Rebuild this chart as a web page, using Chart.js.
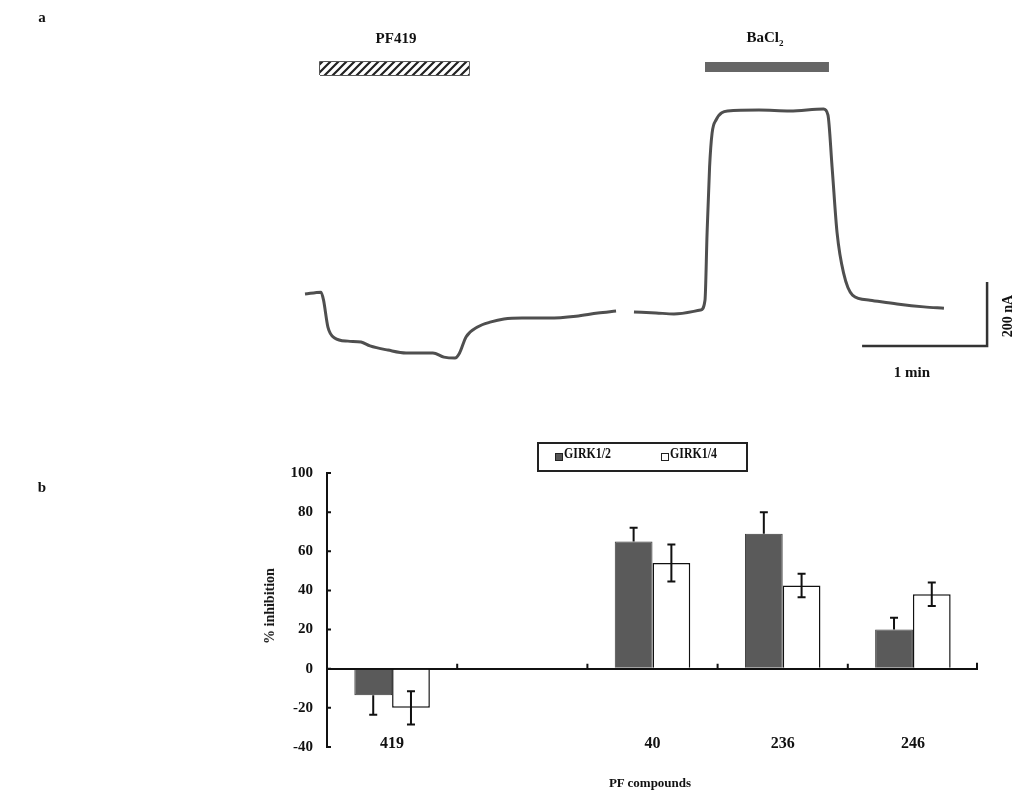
<!DOCTYPE html>
<html>
<head>
<meta charset="utf-8">
<script src="https://cdn.jsdelivr.net/npm/chart.js@4.4.0/dist/chart.umd.min.js"></script>
<style>
body { margin: 0; background: #fff; }
#wrap { position: relative; width: 1017px; height: 790px; overflow: hidden; font-family: "Liberation Serif", serif; font-weight: bold; color: #111; }
canvas { position: absolute; left: 0; }
.t { position: absolute; white-space: nowrap; transform: translate(-50%, -50%); }
.rot { transform: translate(-50%, -50%) rotate(-90deg); }
#legend { position: absolute; left: 537px; top: 442px; width: 211px; height: 30px; border: 2px solid #222; box-sizing: border-box; }
.sq { position: absolute; width: 8px; height: 8px; border: 1px solid #222; box-sizing: border-box; }
.lt { position: absolute; font-size: 14px; top: 2px; transform: scaleX(0.85); transform-origin: left center; }
</style>
</head>
<body>
<div id="wrap">
  <canvas id="trace" width="1017" height="400" style="top:0"></canvas>
  <canvas id="bars" width="1017" height="390" style="top:400px"></canvas>

  <div class="t" style="left:42px;top:17px;font-size:15px">a</div>
  <div class="t" style="left:42px;top:487px;font-size:15px">b</div>
  <div class="t" style="left:396px;top:38px;font-size:15px">PF419</div>
  <div class="t" style="left:765px;top:38px;font-size:15px">BaCl<sub style="font-size:9px">2</sub></div>
  <div class="t" style="left:912px;top:372px;font-size:15px">1 min</div>
  <div class="t rot" style="left:1008px;top:316px;font-size:14px">200 nA</div>
  <div class="t rot" style="left:270px;top:606px;font-size:14px">% inhibition</div>
  <div class="t" style="left:650px;top:783px;font-size:13px">PF compounds</div>

  <div id="legend">
    <div class="sq" style="left:16px;top:9px;background:#555"></div>
    <div class="lt" style="left:25px">GIRK1/2</div>
    <div class="sq" style="left:122px;top:9px;background:#fff"></div>
    <div class="lt" style="left:131px">GIRK1/4</div>
  </div>
</div>

<script>
// ---- panel a: current trace (time in s, current in nA) ----
const traceTime = [0, 7.7, 8.9, 11, 14.2, 20.6, 26.9, 31.2, 39.8, 48.5, 61.4, 66.7, 72, 74.2, 77.3, 82.8, 89.3, 95.5, 104.2, 117.1, 130.1, 140.6, 149.3,
    153,
    157.9, 168.5, 177.1, 189.9, 192, 193, 194.2, 195.4, 197.3, 202.8, 217.9, 232.8, 248.9, 251, 253, 255.4, 258.5, 262.8, 271.2, 284.2, 297.1, 306.7];
const traceCurrent = [156, 162, 137, 53, 19, 9, 6, -6, -19, -28, -28, -41, -44, -28, 22, 53, 69, 78, 81, 81, 87, 97, 103,
    null,
    100, 97, 94, 106, 137, 347, 553, 659, 700, 728, 731, 728, 734, 716, 553, 347, 222, 153, 137, 125, 116, 112];

// drug application periods [start, end] in s
const pf419Period = [7.2, 78.7];
const bacl2Period = [192, 251.5];
// scale bar: 1 min x 200 nA
const scaleTime = [267.4, 327.4];
const scaleCurrent = [-6, 194];

// ---- panel b: % inhibition ----
const categories = ['419', '', '40', '236', '246'];
const girk12 = [-13.5, null, 65, 69, 20];
const girk12Err = [10, null, 7, 11, 6];
const girk14 = [-20, null, 54, 42.5, 38];
const girk14Err = [8.5, null, 9.5, 6, 6];

function hatchPattern() {
    var c = document.createElement('canvas');
    c.width = 8; c.height = 8;
    var g = c.getContext('2d');
    g.fillStyle = '#fff';
    g.fillRect(0, 0, 8, 8);
    g.strokeStyle = '#222';
    g.lineWidth = 2.2;
    g.beginPath();
    g.moveTo(-2, 10); g.lineTo(10, -2);
    g.moveTo(-6, 6); g.lineTo(6, -6);
    g.moveTo(2, 14); g.lineTo(14, 2);
    g.stroke();
    return g.createPattern(c, 'repeat');
}

var tracePoints = traceTime.map(function (t, i) { return { x: t, y: traceCurrent[i] }; });

new Chart(document.getElementById('trace'), {
    type: 'scatter',
    data: {
        datasets: [
            {
                data: tracePoints,
                showLine: true,
                spanGaps: false,
                borderColor: '#4f4f4f',
                borderWidth: 3,
                pointRadius: 0,
                cubicInterpolationMode: 'monotone'
            },
            {
                // PF419 bar, hatched
                data: [{ x: pf419Period[0], y: 881 }, { x: pf419Period[1], y: 881 }],
                showLine: true,
                borderWidth: 0,
                borderColor: 'transparent',
                pointRadius: 0,
                fill: { value: 841 },
                backgroundColor: hatchPattern()
            },
            {
                data: [{ x: pf419Period[0], y: 841 }, { x: pf419Period[0], y: 881 }, { x: pf419Period[1], y: 881 },
                    { x: pf419Period[1], y: 841 }, { x: pf419Period[0], y: 841 }],
                showLine: true,
                borderColor: '#222',
                borderWidth: 1.5,
                pointRadius: 0
            },
            {
                // BaCl2 bar
                data: [{ x: bacl2Period[0], y: 881 }, { x: bacl2Period[1], y: 881 }],
                showLine: true,
                borderWidth: 0,
                borderColor: 'transparent',
                pointRadius: 0,
                fill: { value: 850 },
                backgroundColor: '#666'
            },
            {
                // scale bar
                data: [{ x: scaleTime[0], y: scaleCurrent[0] }, { x: scaleTime[1], y: scaleCurrent[0] }, { x: scaleTime[1], y: scaleCurrent[1] }],
                showLine: true,
                borderColor: '#333',
                borderWidth: 2.5,
                pointRadius: 0
            }
        ]
    },
    options: {
        responsive: false,
        animation: false,
        layout: { padding: 0 },
        plugins: { legend: { display: false }, tooltip: { enabled: false } },
        scales: {
            x: { type: 'linear', display: false, min: -146.4, max: 341.76 },
            y: { display: false, min: -175, max: 1075 }
        }
    }
});

// error bars: open bars get both halves, filled bars only the outer half
const errorBars = {
    id: 'errorBars',
    afterDatasetsDraw: function (chart) {
        var ctx = chart.ctx, y = chart.scales.y;
        ctx.save();
        ctx.strokeStyle = '#111';
        ctx.lineWidth = 2;
        chart.data.datasets.forEach(function (ds, di) {
            var meta = chart.getDatasetMeta(di);
            meta.data.forEach(function (bar, i) {
                var v = ds.data[i], e = ds.errors[i];
                if (v == null) return;
                var s = v >= 0 ? 1 : -1;
                var far = y.getPixelForValue(v + s * e);
                var near = ds.bothSides ? y.getPixelForValue(v - s * e) : y.getPixelForValue(v);
                ctx.beginPath();
                ctx.moveTo(bar.x, near); ctx.lineTo(bar.x, far);
                ctx.moveTo(bar.x - 4, far); ctx.lineTo(bar.x + 4, far);
                if (ds.bothSides) { ctx.moveTo(bar.x - 4, near); ctx.lineTo(bar.x + 4, near); }
                ctx.stroke();
            });
        });
        ctx.restore();
    }
};

// small inward tick marks on both axes, and category labels level with the -40 tick
const axisTicks = {
    id: 'axisTicks',
    afterDraw: function (chart) {
        var ctx = chart.ctx, x = chart.scales.x, y = chart.scales.y, area = chart.chartArea;
        ctx.save();
        ctx.strokeStyle = '#111';
        ctx.lineWidth = 2;
        ctx.beginPath();
        y.ticks.forEach(function (t) {
            var py = y.getPixelForValue(t.value);
            ctx.moveTo(area.left, py); ctx.lineTo(area.left + 4, py);
        });
        var zero = y.getPixelForValue(0);
        for (var i = 0; i < categories.length - 1; i++) {
            var px = (x.getPixelForValue(i) + x.getPixelForValue(i + 1)) / 2;
            ctx.moveTo(px, zero); ctx.lineTo(px, zero - 5);
        }
        ctx.moveTo(area.right - 1, zero); ctx.lineTo(area.right - 1, zero - 6);
        ctx.stroke();

        ctx.fillStyle = '#111';
        ctx.font = 'bold 16px "Liberation Serif"';
        ctx.textAlign = 'center';
        ctx.textBaseline = 'middle';
        var ly = y.getPixelForValue(-40) - 3;
        categories.forEach(function (c, i) {
            ctx.fillText(c, x.getPixelForValue(i), ly);
        });
        ctx.restore();
    }
};

new Chart(document.getElementById('bars'), {
    type: 'bar',
    data: {
        labels: categories,
        datasets: [
            {
                label: 'GIRK1/2',
                data: girk12,
                errors: girk12Err,
                bothSides: false,
                backgroundColor: '#5a5a5a',
                borderColor: '#3a3a3a',
                borderWidth: 1
            },
            {
                label: 'GIRK1/4',
                data: girk14,
                errors: girk14Err,
                bothSides: true,
                backgroundColor: '#fff',
                borderColor: '#111',
                borderWidth: 1.5
            }
        ]
    },
    options: {
        responsive: false,
        animation: false,
        layout: { padding: { top: 73, right: 39, left: 0, bottom: 0 } },
        plugins: { legend: { display: false }, tooltip: { enabled: false } },
        datasets: { bar: { categoryPercentage: 0.58, barPercentage: 1 } },
        scales: {
            x: {
                grid: { display: false, drawTicks: false },
                border: { display: false },
                ticks: { display: false },
                afterFit: function (s) { s.height = 43; }
            },
            y: {
                min: -40,
                max: 100,
                grid: {
                    drawTicks: false,
                    color: function (c) { return c.tick && c.tick.value === 0 ? '#111' : 'transparent'; },
                    lineWidth: 2
                },
                border: { display: true, color: '#111', width: 2 },
                ticks: { stepSize: 20, color: '#111', padding: 14, font: { family: 'Liberation Serif', size: 15, weight: 'bold' } },
                afterFit: function (s) { s.width = 327; }
            }
        }
    },
    plugins: [errorBars, axisTicks]
});
</script>
</body>
</html>
